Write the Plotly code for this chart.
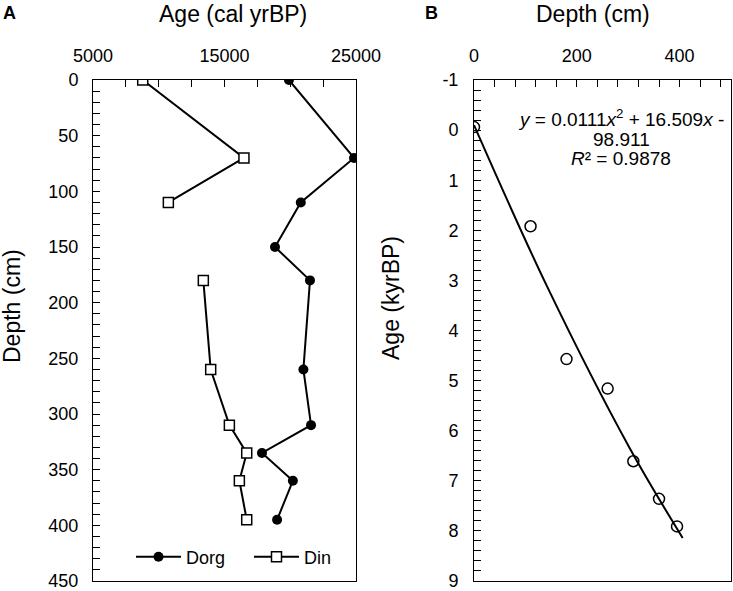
import plotly.graph_objects as go

# ---------------- Data ----------------
# Panel A: depth (cm) vs age (cal yrBP)
depth_a = [0, 70, 110, 150, 180, 260, 310, 335, 360, 395]
dorg_age = [19900, 24850, 20800, 18840, 21500, 21000, 21580, 17850, 20200, 19000]
din_age = [8780, 16480, 10730, None, 13390, 13950, 15370, 16690, 16130, 16690]

# Panel B: depth (cm) vs age (kyrBP)
depth_b = [0, 110, 180, 260, 310, 360, 395]
age_b = [-0.06, 1.92, 4.57, 5.16, 6.61, 7.36, 7.91]

# Trend line
trend_depth = [0, 144, 303, 406]
trend_age = [-0.1, 3.16, 6.35, 8.14]

# tick labels
xa_ticks = [5000, 15000, 25000]
xa_text = ["5000", "15000", "25000"]
ya_ticks = [0, 50, 100, 150, 200, 250, 300, 350, 400, 450]
xb_ticks = [0, 200, 400]
yb_ticks = [-1, 0, 1, 2, 3, 4, 5, 6, 7, 8, 9]
yb_text = ["-1", "0", "1", "2", "3", "4", "5", "6", "7", "8", "9"]

FONT = "Liberation Sans, Arial, sans-serif"
W, H = 733, 591

def px_x(p):
    return p / W

def px_y(p):
    return 1 - p / H

fig = go.Figure()

fig.add_trace(go.Scatter(
    x=dorg_age, y=depth_a, mode="lines+markers", name="Dorg",
    line=dict(color="black", width=2),
    marker=dict(symbol="circle", size=10, color="black"),
    xaxis="x", yaxis="y", connectgaps=False))
fig.add_trace(go.Scatter(
    x=din_age, y=depth_a, mode="lines+markers", name="Din",
    line=dict(color="black", width=2),
    marker=dict(symbol="square", size=10, color="white",
                line=dict(color="black", width=1.5)),
    xaxis="x", yaxis="y", connectgaps=False))

fig.add_trace(go.Scatter(
    x=depth_b, y=age_b, mode="markers", showlegend=False,
    marker=dict(symbol="circle-open", size=11, color="black",
                line=dict(color="black", width=1.5)),
    xaxis="x2", yaxis="y2"))
fig.add_trace(go.Scatter(
    x=trend_depth, y=trend_age, mode="lines", showlegend=False,
    line=dict(color="black", width=2, shape="spline"),
    xaxis="x2", yaxis="y2"))

dom_ax = [px_x(93), px_x(356)]
dom_bx = [px_x(474), px_x(731)]
dom_y = [px_y(581), px_y(80)]

common = dict(showgrid=False, zeroline=False, linecolor="black", linewidth=1,
              tickcolor="black", automargin=False, ticklabeloverflow="allow",
              tickfont=dict(family=FONT, size=18, color="black"))
over = dict(showticklabels=False, showline=False, showgrid=False,
            zeroline=False, tickcolor="black", ticks="outside", ticklen=5,
            automargin=False)

fig.update_layout(
    width=W, height=H,
    margin=dict(l=0, r=0, t=0, b=0, autoexpand=False),
    paper_bgcolor="white", plot_bgcolor="white",
    font=dict(family=FONT, size=18, color="black"),
    xaxis=dict(domain=dom_ax, anchor="y", side="top", range=[5000, 25000],
               tickmode="array", tickvals=xa_ticks, ticktext=xa_text,
               ticks="inside", ticklen=7, showline=True, mirror=True,
               minor=dict(tickmode="linear", tick0=5000, dtick=2500, ticks="inside",
                          ticklen=7, tickcolor="black"),
               ticklabelstandoff=10, **common),
    yaxis=dict(domain=dom_y, anchor="x", range=[450, 0], tickmode="array",
               tickvals=ya_ticks, ticks="inside", ticklen=7,
               showline=True, mirror=True,
               minor=dict(tickmode="linear", tick0=0, dtick=10, ticks="inside",
                          ticklen=7, tickcolor="black"),
               ticklabelstandoff=10, **common),
    xaxis3=dict(overlaying="x", anchor="y", side="top", range=[5000, 25000],
                tickmode="array", tickvals=xa_ticks, **over),
    yaxis3=dict(overlaying="y", anchor="x", side="left", range=[450, 0],
                tickmode="array", tickvals=ya_ticks, **over),
    xaxis2=dict(domain=dom_bx, anchor="y2", side="top", range=[0, 500],
                tickmode="array", tickvals=xb_ticks, ticks="inside", ticklen=7,
                showline=True, mirror=True,
                minor=dict(tickmode="linear", tick0=0, dtick=40, ticks="inside",
                           ticklen=7, tickcolor="black"),
                ticklabelstandoff=10, **common),
    yaxis2=dict(domain=dom_y, anchor="x2", range=[9, -1], tickmode="array",
                tickvals=yb_ticks, ticktext=yb_text, ticks="inside", ticklen=7,
                showline=True, mirror=True,
                minor=dict(tickmode="linear", tick0=-1, dtick=0.2, ticks="inside",
                           ticklen=7, tickcolor="black"),
                ticklabelstandoff=11, **common),
    xaxis4=dict(overlaying="x2", anchor="y2", side="top", range=[0, 500],
                tickmode="array", tickvals=xb_ticks, **over),
    yaxis4=dict(overlaying="y2", anchor="x2", side="left", range=[9, -1],
                tickmode="array", tickvals=yb_ticks, **over),
    legend=dict(orientation="h", x=px_x(131), y=px_y(557), xanchor="left",
                yanchor="middle", bgcolor="rgba(0,0,0,0)",
                font=dict(family=FONT, size=18, color="black"),
                itemwidth=45, entrywidth=58, entrywidthmode="pixels"),
    showlegend=True,
)

ann = []
def add_text(text, x, y, size=18, angle=0, bold=False):
    if bold:
        text = "<b>" + text + "</b>"
    ann.append(dict(text=text, x=px_x(x), y=px_y(y), xref="paper", yref="paper",
                    showarrow=False, textangle=angle, xanchor="center",
                    yanchor="middle", font=dict(family=FONT, size=size, color="black")))

add_text("A", 9, 13, bold=True)
add_text("B", 432, 13, bold=True)
add_text("Age (cal yrBP)", 233, 14, size=23)
add_text("Depth (cm)", 593, 14, size=23)
add_text("Depth (cm)", 12, 306, size=23, angle=-90)
add_text("Age (kyrBP)", 391, 298, size=23, angle=-90)
add_text("<i>y</i> = 0.0111<i>x</i><sup>2</sup> + 16.509<i>x</i> -", 621, 118, size=19)
add_text("98.911", 621, 140, size=19)
add_text("<i>R</i>² = 0.9878", 621, 158, size=19)

fig.update_layout(annotations=ann)

fig.write_html(
    "out.html",
    config={"displayModeBar": False},
    post_script="document.body.style.margin='0';document.body.style.overflow='hidden';",
)
